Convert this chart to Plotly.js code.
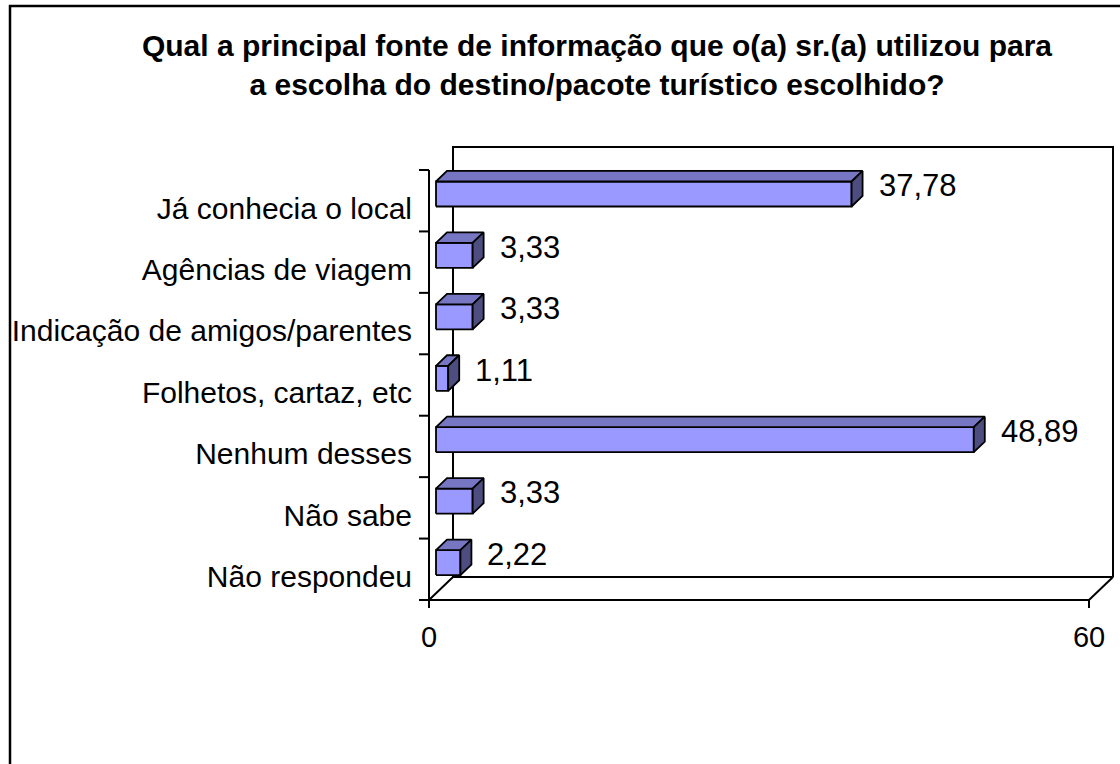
<!DOCTYPE html>
<html>
<head>
<meta charset="utf-8">
<script src="https://cdn.plot.ly/plotly-3.0.1.min.js"></script>
<style>html,body{margin:0;padding:0;background:#fff;}#chart{width:1120px;height:764px;}</style>
</head>
<body>
<div id="chart"></div>
<script>
// ---- data ----
const categories = ['Já conhecia o local', 'Agências de viagem', 'Indicação de amigos/parentes', 'Folhetos, cartaz, etc', 'Nenhum desses', 'Não sabe', 'Não respondeu'];
const values = [37.78, 3.33, 3.33, 1.11, 48.89, 3.33, 2.22];
const xTickVals = [0, 60];
const xTickText = ['0', '60'];
const titleText = '<b>Qual a principal fonte de informação que o(a) sr.(a) utilizou para<br>a escolha do destino/pacote turístico escolhido?</b>';

// ---- geometry / style ----
const W = 1120, H = 764;
const PLOT_L = 418, PLOT_R = 1117, PLOT_T = 143, PLOT_B = 610;
const PX_X = 11;              // px per value unit
const PX_Y = 430 / 7;         // px per category band
const DX = 24 / PX_X, DY = 23 / PX_Y; // 3D depth offset
const F1 = 7 / 24, F2 = 18 / 24;      // bar depth fractions
const HH = 12.5 / PX_Y;               // bar half height
const n = categories.length;
const xMax = xTickVals[xTickVals.length - 1];
const xRange = [-1, -1 + (PLOT_R - PLOT_L) / PX_X];
const yRange = [-(PLOT_B - 600) / PX_Y, 0];
yRange[1] = yRange[0] + (PLOT_B - PLOT_T) / PX_Y;

const FONT = 'Liberation Sans, Arial, sans-serif';

// frame: axes, floor, back wall
const fx = [], fy = [];
function seg(pts) { pts.forEach(p => { fx.push(p[0]); fy.push(p[1]); }); fx.push(null); fy.push(null); }
seg([[0, 0], [0, n]]);
for (let k = 0; k <= n; k++) seg([[0, k], [-10 / PX_X, k]]);
xTickVals.forEach(t => seg([[t, 0], [t, -8 / PX_Y]]));
seg([[0, 0], [xMax, 0], [xMax + DX, DY], [DX, DY], [0, 0]]);
seg([[DX, DY], [DX, n + DY], [xMax + DX, n + DY], [xMax + DX, DY]]);

// bars
const frX = [], frY = [], tpX = [], tpY = [], sdX = [], sdY = [];
const ddx = (F2 - F1) * DX, ddy = (F2 - F1) * DY;
const annotations = [];
values.forEach((v, i) => {
  const c = n - i - 0.5;
  const x0 = F1 * DX, y0 = c - HH + F1 * DY, y1 = c + HH + F1 * DY;
  [[x0, y0], [x0 + v, y0], [x0 + v, y1], [x0, y1], [x0, y0]].forEach(p => { frX.push(p[0]); frY.push(p[1]); });
  frX.push(null); frY.push(null);
  [[x0, y1], [x0 + v, y1], [x0 + v + ddx, y1 + ddy], [x0 + ddx, y1 + ddy], [x0, y1]].forEach(p => { tpX.push(p[0]); tpY.push(p[1]); });
  tpX.push(null); tpY.push(null);
  [[x0 + v, y0], [x0 + v + ddx, y0 + ddy], [x0 + v + ddx, y1 + ddy], [x0 + v, y1], [x0 + v, y0]].forEach(p => { sdX.push(p[0]); sdY.push(p[1]); });
  sdX.push(null); sdY.push(null);
  annotations.push({
    x: v + F2 * DX, y: c + (F1 + F2) / 2 * DY + 3 / PX_Y, xref: 'x', yref: 'y',
    text: v.toFixed(2).replace('.', ','), showarrow: false, xanchor: 'left', yanchor: 'middle', xshift: 14,
    font: { family: FONT, size: 31, color: '#000' }
  });
});

const lineStyle = { color: '#000', width: 2 };
const traces = [
  { x: fx, y: fy, mode: 'lines', line: lineStyle, hoverinfo: 'skip' },
  { x: frX, y: frY, mode: 'lines', fill: 'toself', fillcolor: '#9999FF', line: { color: '#000', width: 1.8 }, hoverinfo: 'skip' },
  { x: tpX, y: tpY, mode: 'lines', fill: 'toself', fillcolor: '#7676C2', line: { color: '#000', width: 1.8 }, hoverinfo: 'skip' },
  { x: sdX, y: sdY, mode: 'lines', fill: 'toself', fillcolor: '#4D4D80', line: { color: '#000', width: 1.8 }, hoverinfo: 'skip' }
];

// outer border (paper coords)
const pw = PLOT_R - PLOT_L, ph = PLOT_B - PLOT_T;
const px2p = px => (px - PLOT_L) / pw;
const py2p = py => (PLOT_B - py) / ph;
const borderPath = 'M ' + px2p(10) + ',' + py2p(800) + ' L ' + px2p(10) + ',' + py2p(6) + ' L ' + px2p(1130) + ',' + py2p(6);

const layout = {
  width: W, height: H,
  margin: { l: PLOT_L, r: W - PLOT_R, t: PLOT_T, b: H - PLOT_B, pad: 0 },
  paper_bgcolor: '#fff', plot_bgcolor: 'rgba(0,0,0,0)',
  showlegend: false, hovermode: false,
  title: { text: titleText, x: 597 / W, xanchor: 'center', y: 1 - 56 / H, yanchor: 'top',
           font: { family: FONT, size: 30, color: '#000' } },
  xaxis: { range: xRange, tickvals: xTickVals, ticktext: xTickText, ticks: '', showgrid: false, zeroline: false,
           showline: false, ticklabelstandoff: 7, tickfont: { family: FONT, size: 29, color: '#000' }, fixedrange: true },
  yaxis: { range: yRange, tickvals: categories.map((_, i) => n - i - 0.5 - 0.12), ticktext: categories, ticks: '',
           showgrid: false, zeroline: false, showline: false, ticklabelstandoff: 5,
           tickfont: { family: FONT, size: 30, color: '#000' }, fixedrange: true },
  annotations: annotations,
  shapes: [{ type: 'path', xref: 'paper', yref: 'paper', path: borderPath, line: { color: '#000', width: 2.5 } }]
};

Plotly.newPlot('chart', traces, layout, { staticPlot: true, displayModeBar: false });
</script>
</body>
</html>
